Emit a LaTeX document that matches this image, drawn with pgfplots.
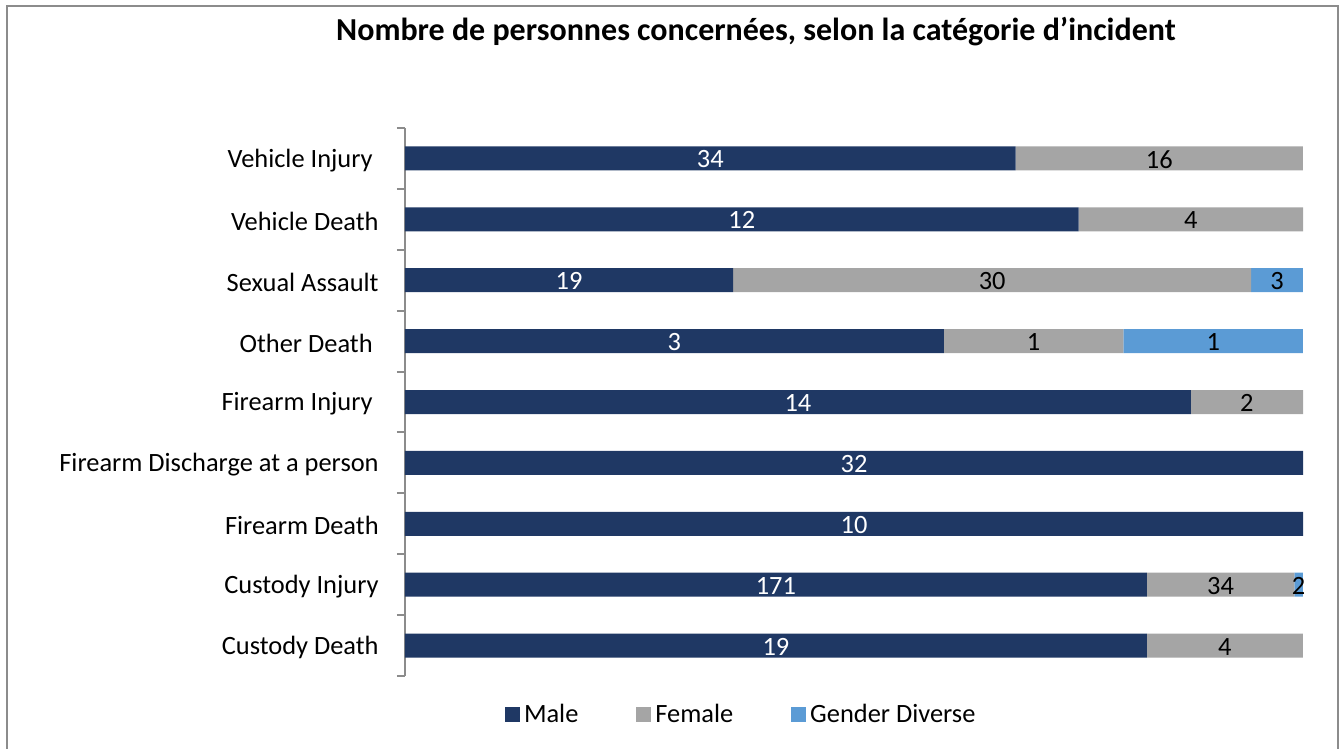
\documentclass[border=0pt]{standalone}
\usepackage{fontspec}
\setmainfont{Carlito}
\usepackage{pgfplots}
\usepackage{pgfplotstable}
\pgfplotsset{compat=1.18}

\definecolor{male}{RGB}{31,56,100}
\definecolor{female}{RGB}{165,165,165}
\definecolor{gdiv}{RGB}{91,155,213}
\definecolor{framegray}{RGB}{140,140,140}

% counts per incident category (0 = bottom row)
\pgfplotstableread{
y male female gd
0 19 4 0
1 171 34 2
2 10 0 0
3 32 0 0
4 14 2 0
5 3 1 1
6 19 30 3
7 12 4 0
8 34 16 0
}\counts

\newcommand{\lbl}{\fontsize{13.2}{15}\selectfont}
\def\tot{(\thisrow{male}+\thisrow{female}+\thisrow{gd})}

\pgfplotsset{
  share/.style={
    scale only axis, width=449pt, height=274pt,
    at={(202.5pt,-338pt)}, anchor=south west,
    xmin=0, xmax=100, ymin=-0.5, ymax=8.5,
  },
}

\begin{document}
\begin{tikzpicture}
\begin{scope}[x=0.5pt,y=-0.5pt]
  \useasboundingbox (0,0) rectangle (1340,749);
  \draw[framegray, line width=1pt] (7,749) -- (7,6) -- (1338,6) -- (1338,749);
  \node[font=\fontsize{16}{19}\selectfont\bfseries] at (756,32)
    {Nombre de personnes concernées, selon la catégorie d’incident};
\end{scope}

\begin{axis}[
    share,
    xbar stacked,
    bar width=12pt,
    axis x line=none,
    axis y line=left,
    y axis line style={framegray, line width=1pt, -},
    ytick={0,...,8},
    yticklabels={Custody Death, Custody Injury, Firearm Death,
      Firearm Discharge at a person, Firearm Injury\kern.226em,
      Other Death\kern.226em, Sexual Assault, Vehicle Death,
      Vehicle Injury\kern.226em},
    major tick length=0pt,
    minor ytick={-0.5,0.5,...,8.5},
    minor tick length=4pt,
    ytick align=outside,
    tick style={framegray, line width=1pt},
    y tick label style={anchor=east, inner sep=0pt, xshift=-13pt, yshift=-1pt, font=\lbl},
    legend style={at={(0.3755,-0.071)}, anchor=center, draw=none,
      legend columns=3, font=\lbl,
      /tikz/every even column/.append style={column sep=27pt}},
    legend image code/.code={\fill[#1] (-2.5pt,-3.75pt) rectangle (5pt,3.75pt);},
]
\addplot[fill=male, draw=none] table[x expr=100*\thisrow{male}/\tot, y=y]{\counts};
\addlegendentry{Male}
\addplot[fill=female, draw=none] table[x expr=100*\thisrow{female}/\tot, y=y]{\counts};
\addlegendentry{Female}
\addplot[fill=gdiv, draw=none] table[x expr=100*\thisrow{gd}/\tot, y=y]{\counts};
\addlegendentry{Gender Diverse}
\end{axis}

% value labels, centred in each segment
\begin{axis}[
    share,
    hide axis,
    point meta=explicit,
    nodes near coords,
    /pgf/number format/assume math mode=true,
    every node near coord/.append style={anchor=center, font=\lbl, yshift=-0.5pt},
]
\addplot[only marks, mark=none, every node near coord/.append style={white}]
  table[x expr=50*\thisrow{male}/\tot, y=y, meta=male]{\counts};
\addplot[only marks, mark=none, every node near coord/.append style={black},
  x filter/.expression={\thisrow{female}==0 ? nan : x}]
  table[x expr=100*(\thisrow{male}+0.5*\thisrow{female})/\tot, y=y, meta=female]{\counts};
\addplot[only marks, mark=none, every node near coord/.append style={black},
  x filter/.expression={\thisrow{gd}==0 ? nan : x}]
  table[x expr=100*(\thisrow{male}+\thisrow{female}+0.5*\thisrow{gd})/\tot, y=y, meta=gd]{\counts};
\end{axis}
\end{tikzpicture}
\end{document}
